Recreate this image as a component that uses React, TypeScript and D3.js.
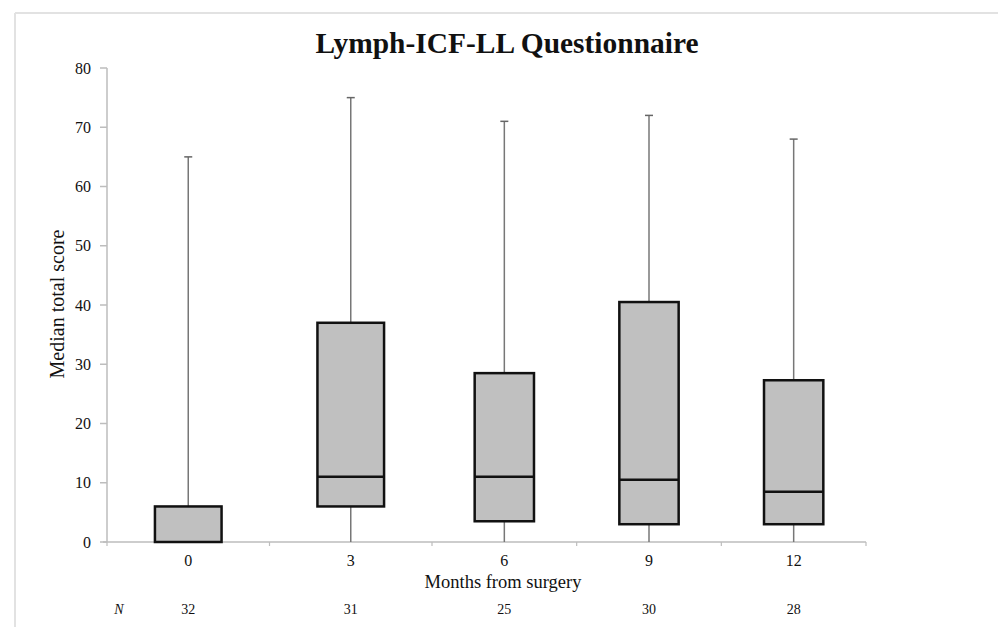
import React, { useEffect, useRef } from "react";
import * as d3 from "d3";

// months from surgery
const months = ["0", "3", "6", "9", "12"];
const counts = [32, 31, 25, 30, 28];
const whiskerMin = [0, 0, 0, 0, 0];
const q1 = [0, 6, 3.5, 3, 3];
const medians = [0, 11, 11, 10.5, 8.5];
const q3 = [6, 37, 28.5, 40.5, 27.3];
const whiskerMax = [65, 75, 71, 72, 68];
const yTicks = [0, 10, 20, 30, 40, 50, 60, 70, 80];

const W = 998;
const H = 627;

const App = () => {
  const ref = useRef<SVGSVGElement>(null);

  useEffect(() => {
    const svg = d3.select(ref.current);
    svg.selectAll("*").remove();

    const font = "'Liberation Serif', 'DejaVu Serif', serif";

    // frame lines (top + left, as in the scan)
    svg.append("line").attr("x1", 15).attr("x2", W).attr("y1", 13).attr("y2", 13)
      .attr("stroke", "#e2e2e2").attr("stroke-width", 2);
    svg.append("line").attr("x1", 15).attr("x2", 15).attr("y1", 13).attr("y2", H)
      .attr("stroke", "#e2e2e2").attr("stroke-width", 2);

    const y = d3.scaleLinear().domain([0, 80]).range([542, 68]);
    // the source image is a bit stretched in the first two categories
    const x = d3.scaleLinear().domain([-0.5, 1.5, 4.5]).range([107, 432, 866]);

    const g = svg.append("g");

    // y axis
    g.append("line").attr("x1", 107).attr("x2", 107).attr("y1", y(0)).attr("y2", y(80))
      .attr("stroke", "#bdbdbd").attr("stroke-width", 1.5);
    yTicks.forEach((t) => {
      g.append("line").attr("x1", 100).attr("x2", 107).attr("y1", y(t)).attr("y2", y(t))
        .attr("stroke", "#bdbdbd").attr("stroke-width", 1.5);
      g.append("text").attr("x", 91).attr("y", y(t)).attr("dy", "0.35em")
        .attr("text-anchor", "end").attr("font-family", font).attr("font-size", 16)
        .attr("fill", "#111").text(t);
    });

    // x axis
    g.append("line").attr("x1", 103).attr("x2", x(4.5)).attr("y1", y(0)).attr("y2", y(0))
      .attr("stroke", "#bdbdbd").attr("stroke-width", 1.5);
    d3.range(0, 6).forEach((i) => {
      g.append("line").attr("x1", x(i - 0.5)).attr("x2", x(i - 0.5))
        .attr("y1", y(0)).attr("y2", y(0) + 4)
        .attr("stroke", "#bdbdbd").attr("stroke-width", 1.2);
    });

    months.forEach((m, i) => {
      const cx = x(i);
      const x0 = x(i - 0.205);
      const x1 = x(i + 0.205);

      // whiskers
      g.append("line").attr("x1", cx).attr("x2", cx).attr("y1", y(q3[i])).attr("y2", y(whiskerMax[i]))
        .attr("stroke", "#777").attr("stroke-width", 1.5);
      g.append("line").attr("x1", cx - 4).attr("x2", cx + 4)
        .attr("y1", y(whiskerMax[i])).attr("y2", y(whiskerMax[i]))
        .attr("stroke", "#666").attr("stroke-width", 1.5);
      if (q1[i] > whiskerMin[i]) {
        g.append("line").attr("x1", cx).attr("x2", cx).attr("y1", y(whiskerMin[i])).attr("y2", y(q1[i]))
          .attr("stroke", "#777").attr("stroke-width", 1.5);
      }

      // box
      g.append("rect").attr("x", x0).attr("y", y(q3[i]))
        .attr("width", x1 - x0).attr("height", y(q1[i]) - y(q3[i]))
        .attr("fill", "#c0c0c0").attr("stroke", "#111").attr("stroke-width", 2.5);
      if (medians[i] > q1[i]) {
        g.append("line").attr("x1", x0).attr("x2", x1).attr("y1", y(medians[i])).attr("y2", y(medians[i]))
          .attr("stroke", "#111").attr("stroke-width", 2.5);
      }

      g.append("text").attr("x", cx).attr("y", 566).attr("text-anchor", "middle")
        .attr("font-family", font).attr("font-size", 16).attr("fill", "#111").text(m);
      g.append("text").attr("x", cx).attr("y", 614).attr("text-anchor", "middle")
        .attr("font-family", font).attr("font-size", 14).attr("fill", "#111").text(counts[i]);
    });

    g.append("text").attr("x", 119).attr("y", 614).attr("text-anchor", "middle")
      .attr("font-family", font).attr("font-size", 14).attr("font-style", "italic")
      .attr("fill", "#111").text("N");

    // axis titles
    g.append("text").attr("x", 503).attr("y", 588).attr("text-anchor", "middle")
      .attr("font-family", font).attr("font-size", 18.5).attr("fill", "#111")
      .text("Months from surgery");
    g.append("text").attr("transform", `translate(64,${304}) rotate(-90)`)
      .attr("text-anchor", "middle").attr("font-family", font).attr("font-size", 20)
      .attr("fill", "#111").text("Median total score");

    // title
    g.append("text").attr("x", 507).attr("y", 53).attr("text-anchor", "middle")
      .attr("font-family", font).attr("font-size", 29).attr("font-weight", "bold")
      .attr("fill", "#111").attr("textLength", 383).attr("lengthAdjust", "spacingAndGlyphs")
      .text("Lymph-ICF-LL Questionnaire");
  }, []);

  return (
    <svg ref={ref} width={W} height={H}
      style={{ position: "absolute", left: 0, top: 0, background: "#fff" }} />
  );
};

export default App;
